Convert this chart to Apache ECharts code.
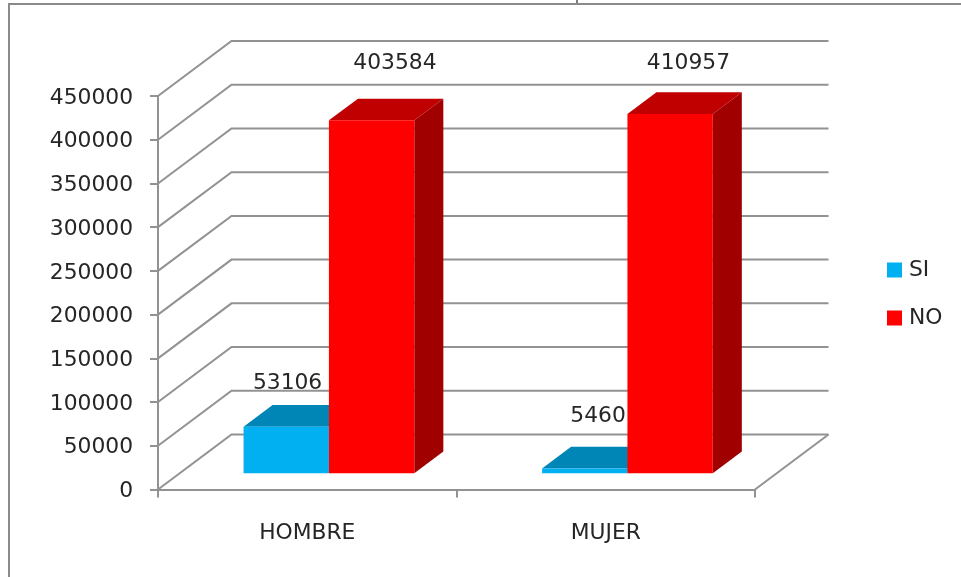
<!DOCTYPE html>
<html>
<head>
<meta charset="utf-8">
<style>html,body{margin:0;padding:0;background:#fff}#c{width:961px;height:577px}</style>
<script src="https://cdn.jsdelivr.net/npm/echarts@6/dist/echarts.min.js"></script>
</head>
<body>
<div id="c"></div>
<script>
const categories = ['HOMBRE', 'MUJER'];
const siValues = [53106, 5460];
const noValues = [403584, 410957];
const yTicks = [0, 50000, 100000, 150000, 200000, 250000, 300000, 350000, 400000, 450000];

const FONT = 'DejaVu Sans';
const FS = 21.8;
const INK = '#262626';
const LINE = '#929292';
const WALL_DX = 73.5, WALL_DY = 55;
const BAR_PUSH = 0.295;   // share of the floor depth in front of the bars
const BAR_DEPTH = 0.395;  // share of the floor depth the bars occupy
const GAP = 0.214, BAR_W = 0.286; // share of a category band
const siLabelNudge = [[44, -44], [56, -52]];
const noLabelNudge = [[66, -57], [61, -51]];

function wallItem(params, api) {
  const band = api.size([1, 0])[0];
  const p = api.coord([0, api.value(1)]);
  const x0 = p[0] - band / 2;
  const x1 = x0 + band * categories.length;
  const y = p[1];
  const children = [{
    type: 'polyline',
    shape: { points: [[x0, y], [x0 + WALL_DX, y - WALL_DY], [x1 + WALL_DX, y - WALL_DY]] },
    style: { fill: null, stroke: LINE, lineWidth: 2 }
  }];
  if (api.value(1) === 0) {
    children.push({
      type: 'line',
      shape: { x1: x1, y1: y, x2: x1 + WALL_DX, y2: y - WALL_DY },
      style: { stroke: LINE, lineWidth: 2 }
    });
  }
  return { type: 'group', children };
}

function barItem(slot, front, top, side, nudges) {
  return function (params, api) {
    const i = api.value(0), v = api.value(1);
    const band = api.size([1, 0])[0];
    const base = api.coord([i, 0]);
    const head = api.coord([i, v]);
    const pushX = WALL_DX * BAR_PUSH, pushY = WALL_DY * BAR_PUSH;
    const dx = WALL_DX * BAR_DEPTH, dy = WALL_DY * BAR_DEPTH;
    const l = base[0] - band / 2 + band * (GAP + BAR_W * slot) + pushX;
    const r = l + band * BAR_W;
    const b = base[1] - pushY;
    const t = head[1] - pushY;
    const nudge = nudges[i];
    return {
      type: 'group',
      children: [
        { type: 'polygon', shape: { points: [[r, b], [r + dx, b - dy], [r + dx, t - dy], [r, t]] }, style: { fill: side } },
        { type: 'polygon', shape: { points: [[l, t], [l + dx, t - dy], [r + dx, t - dy], [r, t]] }, style: { fill: top } },
        { type: 'rect', shape: { x: l, y: t, width: r - l, height: b - t }, style: { fill: front } },
        { type: 'text', x: l + nudge[0], y: t + nudge[1],
          style: { text: String(v), fill: INK, font: FS + 'px "' + FONT + '"', textAlign: 'center', textVerticalAlign: 'middle' } }
      ]
    };
  };
}

const chart = echarts.init(document.getElementById('c'), null, { renderer: 'canvas' });
chart.setOption({
  animation: false,
  backgroundColor: '#ffffff',
  textStyle: { fontFamily: FONT },
  grid: { left: 158, right: 206, top: 96, bottom: 87.5, containLabel: false },
  graphic: [
    { type: 'polyline', silent: true, z: 0, shape: { points: [[9, 577], [9, 4], [961, 4]] }, style: { fill: null, stroke: '#8a8a8a', lineWidth: 2 } },
    { type: 'line', silent: true, z: 0, shape: { x1: 577, y1: 0, x2: 577, y2: 3 }, style: { stroke: '#555', lineWidth: 1.5 } }
  ],
  legend: {
    orient: 'vertical', left: 882, top: 254,
    data: ['SI', 'NO'],
    icon: 'rect', itemWidth: 15, itemHeight: 15, itemGap: 26,
    itemStyle: { borderWidth: 0 },
    textStyle: { fontFamily: FONT, fontSize: FS, color: INK, padding: [0, 0, 0, 2], lineHeight: 21 },
    selectedMode: false
  },
  xAxis: {
    type: 'category', data: categories,
    axisLine: { lineStyle: { color: LINE, width: 2 } },
    axisTick: { show: true, alignWithLabel: false, length: 8, lineStyle: { color: LINE, width: 2 } },
    axisLabel: { fontFamily: FONT, fontSize: FS, color: INK, margin: 33 },
    splitLine: { show: false }
  },
  yAxis: {
    type: 'value', min: 0, max: 450000, interval: 50000,
    axisLine: { show: true, lineStyle: { color: LINE, width: 2 } },
    axisTick: { show: true, length: 8, lineStyle: { color: LINE, width: 2 } },
    axisLabel: { fontFamily: FONT, fontSize: FS, color: INK, margin: 25, verticalAlign: 'top', lineHeight: 4, formatter: v => String(v) },
    splitLine: { show: false }
  },
  series: [
    { type: 'custom', name: 'pared', silent: true, z: 1, renderItem: wallItem, encode: { x: 0, y: 1 },
      data: yTicks.map(t => [0, t]) },
    { type: 'custom', name: 'SI', z: 2, itemStyle: { color: '#00B0F0' }, encode: { x: 0, y: 1 },
      renderItem: barItem(0, '#00B0F0', '#0086B6', '#0075A0', siLabelNudge),
      data: siValues.map((v, i) => [i, v]) },
    { type: 'custom', name: 'NO', z: 3, itemStyle: { color: '#FF0000' }, encode: { x: 0, y: 1 },
      renderItem: barItem(1, '#FF0000', '#C00000', '#A00000', noLabelNudge),
      data: noValues.map((v, i) => [i, v]) }
  ]
});
</script>
</body>
</html>
